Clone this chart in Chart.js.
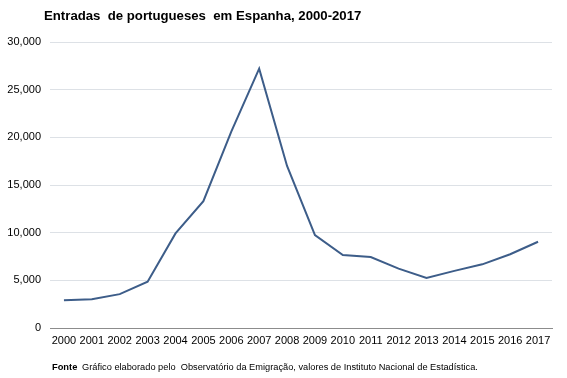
<!DOCTYPE html>
<html>
<head>
<meta charset="utf-8">
<script src="https://cdn.jsdelivr.net/npm/chart.js@4/dist/chart.umd.min.js"></script>
<style>
html,body{margin:0;padding:0;background:#fff;}
#wrap{width:567px;height:378px;position:relative;}
</style>
</head>
<body>
<div id="wrap"><canvas id="c" width="567" height="378"></canvas></div>
<script>
const years = ['2000','2001','2002','2003','2004','2005','2006','2007','2008','2009','2010','2011','2012','2013','2014','2015','2016','2017'];
const entradas = [2920, 3020, 3550, 4850, 9920, 13300, 20600, 27200, 17000, 9750, 7650, 7440, 6230, 5250, 5990, 6680, 7740, 9050];
const yTicks = [0, 5000, 10000, 15000, 20000, 25000, 30000];
const titleText = 'Entradas  de portugueses  em Espanha, 2000-2017';
const sourceLabel = 'Fonte';
const sourceText = 'Gráfico elaborado pelo  Observatório da Emigração, valores de Instituto Nacional de Estadística.';

const FONT = '"Liberation Sans", Arial, sans-serif';

const textPlugin = {
  id: 'texts',
  afterDraw(chart) {
    const ctx = chart.ctx;
    ctx.save();
    ctx.fillStyle = '#000';
    ctx.textBaseline = 'middle';
    ctx.textAlign = 'left';
    ctx.font = 'bold 13.2px ' + FONT;
    ctx.fillText(titleText, 44, 16);
    ctx.font = 'bold 9.3px ' + FONT;
    ctx.fillText(sourceLabel, 52, 367);
    ctx.font = '9.25px ' + FONT;
    ctx.fillText(sourceText, 82, 367);
    ctx.restore();
  }
};

new Chart(document.getElementById('c'), {
  type: 'line',
  data: {
    labels: years,
    datasets: [{
      data: entradas,
      borderColor: '#3d5d89',
      borderWidth: 2,
      pointRadius: 0,
      tension: 0,
      fill: false
    }]
  },
  options: {
    responsive: false,
    animation: false,
    events: [],
    layout: { padding: { top: 42, right: 15, bottom: 28, left: 0 } },
    plugins: { legend: { display: false }, tooltip: { enabled: false }, title: { display: false } },
    scales: {
      x: {
        offset: true,
        grid: { display: false, drawTicks: false },
        border: { display: true, color: '#8c8c8c', width: 1 },
        ticks: { color: '#000', font: { family: FONT, size: 11 }, padding: 6, maxRotation: 0, autoSkip: false },
        afterFit(s) { s.height = 22; }
      },
      y: {
        min: 0, max: 30000,
        afterBuildTicks(s) { s.ticks = yTicks.map(v => ({ value: v })); },
        grid: { color: '#dde1e6', drawTicks: false },
        border: { display: false },
        ticks: {
          color: '#000', font: { family: FONT, size: 11 }, padding: 9,
          callback: v => v.toLocaleString('en-US')
        },
        afterFit(s) { s.width = 50; }
      }
    }
  },
  plugins: [textPlugin]
});
</script>
</body>
</html>
